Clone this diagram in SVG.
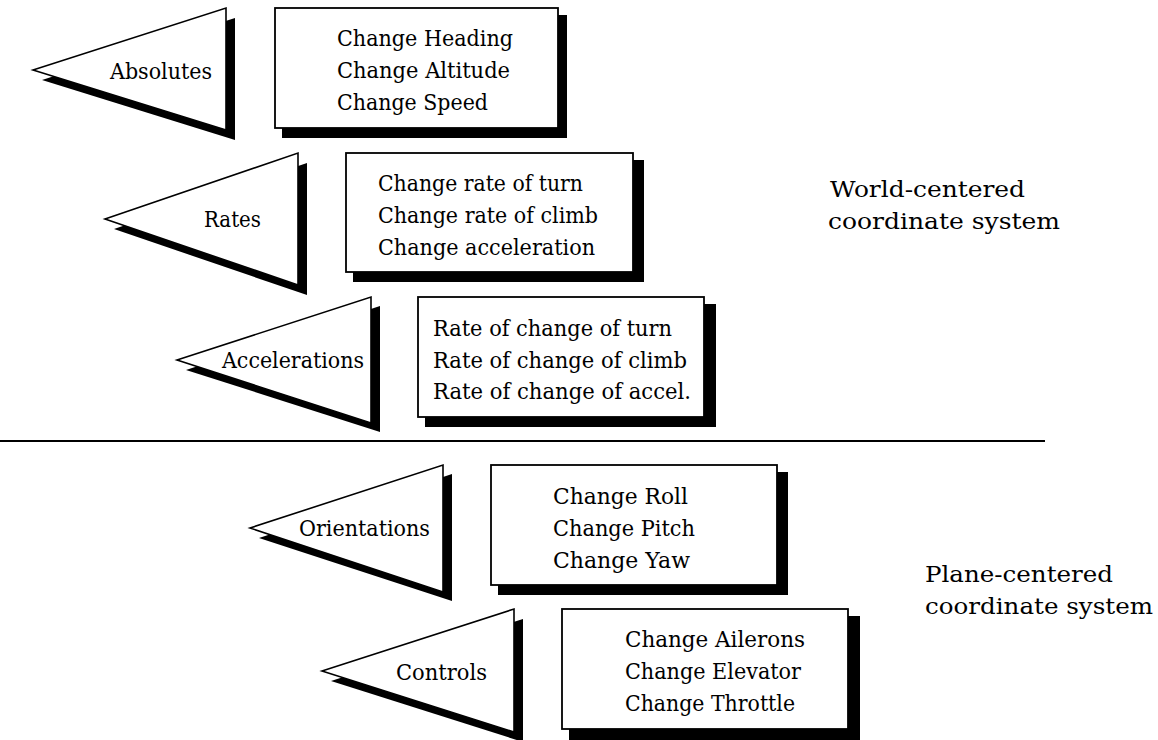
<svg xmlns="http://www.w3.org/2000/svg" width="1158" height="740" viewBox="0 0 1158 740">
<style>
.bg{fill:#ffffff}
.shadow{fill:#000000}
.tri{fill:#ffffff;stroke:#000000;stroke-width:1.6;stroke-linejoin:miter}
.box{fill:#ffffff;stroke:#000000;stroke-width:1.8}
.t{font-family:"DejaVu Serif","Liberation Serif",serif;font-size:22px;fill:#000000}
.side{font-family:"DejaVu Serif","Liberation Serif",serif;font-size:23px;fill:#000000}
.divider{stroke:#000000;stroke-width:2}
</style>
<rect class="bg" x="0" y="0" width="1158" height="740"/>

<g id="absolutes">
  <polygon class="shadow" points="42,80 235,18 235,140"/>
  <polygon class="tri" points="33,70 226,8 226,130"/>
  <text class="t" x="110" y="79" textLength="102" lengthAdjust="spacingAndGlyphs">Absolutes</text>
</g>
<g id="absolutes-box">
  <rect class="shadow" x="282" y="15" width="285" height="123"/>
  <rect class="box" x="275" y="8" width="283" height="120"/>
  <text class="t" x="337" y="46" textLength="176" lengthAdjust="spacingAndGlyphs">Change Heading</text>
  <text class="t" x="337" y="78" textLength="173" lengthAdjust="spacingAndGlyphs">Change Altitude</text>
  <text class="t" x="337" y="110" textLength="151" lengthAdjust="spacingAndGlyphs">Change Speed</text>
</g>

<g id="rates">
  <polygon class="shadow" points="114,229 307,163 307,295"/>
  <polygon class="tri" points="105,219 298,153 298,285"/>
  <text class="t" x="204" y="227" textLength="57" lengthAdjust="spacingAndGlyphs">Rates</text>
</g>
<g id="rates-box">
  <rect class="shadow" x="353" y="160" width="291" height="122"/>
  <rect class="box" x="346" y="153" width="287" height="119"/>
  <text class="t" x="378" y="191" textLength="205" lengthAdjust="spacingAndGlyphs">Change rate of turn</text>
  <text class="t" x="378" y="223" textLength="220" lengthAdjust="spacingAndGlyphs">Change rate of climb</text>
  <text class="t" x="378" y="255" textLength="217" lengthAdjust="spacingAndGlyphs">Change acceleration</text>
</g>

<g id="accelerations">
  <polygon class="shadow" points="186,370 380,306 380,432"/>
  <polygon class="tri" points="177,360 371,297 371,423"/>
  <text class="t" x="222" y="368" textLength="142" lengthAdjust="spacingAndGlyphs">Accelerations</text>
</g>
<g id="accelerations-box">
  <rect class="shadow" x="425" y="304" width="291" height="123"/>
  <rect class="box" x="418" y="297" width="286" height="120"/>
  <text class="t" x="433" y="336" textLength="239" lengthAdjust="spacingAndGlyphs">Rate of change of turn</text>
  <text class="t" x="433" y="368" textLength="254" lengthAdjust="spacingAndGlyphs">Rate of change of climb</text>
  <text class="t" x="433" y="399" textLength="258" lengthAdjust="spacingAndGlyphs">Rate of change of accel.</text>
</g>

<g id="world-label">
  <text class="side" x="830" y="197" textLength="195" lengthAdjust="spacingAndGlyphs">World-centered</text>
  <text class="side" x="828" y="229" textLength="232" lengthAdjust="spacingAndGlyphs">coordinate system</text>
</g>

<g id="connectors">
  <line class="divider" x1="0" y1="441" x2="1045" y2="441"/>
</g>

<g id="orientations">
  <polygon class="shadow" points="259,538 452,474 452,601"/>
  <polygon class="tri" points="250,528 443,465 443,592"/>
  <text class="t" x="299" y="536" textLength="131" lengthAdjust="spacingAndGlyphs">Orientations</text>
</g>
<g id="orientations-box">
  <rect class="shadow" x="498" y="472" width="290" height="123"/>
  <rect class="box" x="491" y="465" width="286" height="120"/>
  <text class="t" x="553" y="504" textLength="135" lengthAdjust="spacingAndGlyphs">Change Roll</text>
  <text class="t" x="553" y="536" textLength="142" lengthAdjust="spacingAndGlyphs">Change Pitch</text>
  <text class="t" x="553" y="568" textLength="137" lengthAdjust="spacingAndGlyphs">Change Yaw</text>
</g>

<g id="controls">
  <polygon class="shadow" points="331,681 523,619 523,742"/>
  <polygon class="tri" points="322,671 514,609 514,732"/>
  <text class="t" x="396" y="680" textLength="91" lengthAdjust="spacingAndGlyphs">Controls</text>
</g>
<g id="controls-box">
  <rect class="shadow" x="569" y="616" width="291" height="124"/>
  <rect class="box" x="562" y="609" width="286" height="120"/>
  <text class="t" x="625" y="647" textLength="180" lengthAdjust="spacingAndGlyphs">Change Ailerons</text>
  <text class="t" x="625" y="679" textLength="176" lengthAdjust="spacingAndGlyphs">Change Elevator</text>
  <text class="t" x="625" y="711" textLength="170" lengthAdjust="spacingAndGlyphs">Change Throttle</text>
</g>

<g id="plane-label">
  <text class="side" x="925" y="582" textLength="188" lengthAdjust="spacingAndGlyphs">Plane-centered</text>
  <text class="side" x="925" y="614" textLength="228" lengthAdjust="spacingAndGlyphs">coordinate system</text>
</g>
</svg>
